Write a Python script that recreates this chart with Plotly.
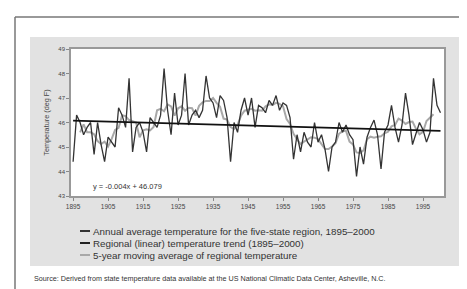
import plotly.graph_objects as go

years = list(range(1895, 2001))
annual_temp = [
    44.4, 46.3, 46.0, 45.5, 45.8, 46.0, 44.7, 46.0, 45.1, 44.4,
    45.4, 45.2, 45.0, 46.6, 46.3, 45.8, 47.8, 44.8, 45.8, 46.0,
    45.6, 44.8, 46.2, 46.0, 45.8, 46.3, 48.2, 46.5, 45.5, 47.2,
    45.9, 46.3, 48.0, 45.9, 46.3, 46.5, 46.2, 46.5, 47.9, 47.0,
    46.8, 46.2, 47.1, 46.9, 46.2, 44.4, 46.0, 45.6, 46.5, 47.0,
    46.3, 47.0, 45.8, 46.7, 46.6, 46.4, 46.9, 46.7, 47.1, 46.5,
    46.8, 46.7, 46.2, 44.5, 45.5, 44.8, 45.6, 45.2, 45.0, 46.0,
    45.2, 45.5, 44.9, 44.0, 45.0, 45.2, 46.0, 45.6, 45.9, 45.5,
    45.3, 43.8, 45.0, 44.3, 45.4, 45.8, 46.1, 45.5, 44.1, 45.6,
    45.9, 46.7, 45.8, 45.2, 45.9, 47.2, 46.3, 45.1, 45.6, 46.0,
    45.7, 45.2, 45.6, 47.8, 46.7, 46.4,
]
ma_years = list(range(1897, 1999))
moving_avg = [
    45.60, 45.92, 45.60, 45.60, 45.52, 45.24, 45.12, 45.22, 45.02, 45.32,
    45.70, 45.78, 46.30, 46.26, 46.10, 46.04, 46.00, 45.40, 45.68, 45.72,
    45.68, 45.82, 46.50, 46.56, 46.46, 46.74, 46.66, 46.28, 46.58, 46.66,
    46.48, 46.60, 46.58, 46.28, 46.68, 46.82, 46.88, 46.88, 47.00, 46.80,
    46.64, 46.16, 46.12, 45.82, 45.74, 45.90, 46.28, 46.48, 46.52, 46.56,
    46.48, 46.50, 46.48, 46.66, 46.74, 46.72, 46.80, 46.76, 46.66, 46.14,
    45.94, 45.54, 45.32, 45.12, 45.22, 45.32, 45.40, 45.38, 45.32, 45.12,
    44.92, 44.92, 45.02, 45.16, 45.54, 45.64, 45.66, 45.22, 45.10, 44.78,
    44.76, 44.86, 45.32, 45.42, 45.38, 45.42, 45.44, 45.56, 45.62, 45.84,
    45.90, 46.16, 46.08, 45.94, 46.02, 46.04, 45.74, 45.52, 45.62, 46.06,
    46.20, 46.34,
]
trend_years = [1895, 2000]
trend_vals = [46.079, 45.659]

x_ticks = list(range(1895, 2000, 10))
y_ticks = [43, 44, 45, 46, 47, 48, 49]

legend_labels = [
    "Annual average temperature for the five-state region, 1895\u20132000",
    "Regional (linear) temperature trend (1895\u20132000)",
    "5-year moving average of regional temperature",
]
legend_colors = ["#333333", "#222222", "#a8a8a8"]

FONT = "Liberation Sans, Arial, sans-serif"
L, R, T, B = 63, 31, 41, 101
W, H = 467, 289
pw, ph = W - L - R, H - T - B

def px(x):
    return (x - L) / pw

def py(y):
    return (H - B - y) / ph

fig = go.Figure()
fig.add_trace(go.Scatter(x=ma_years, y=moving_avg, mode="lines",
                         line=dict(color="#a8a8a8", width=2), showlegend=False))
fig.add_trace(go.Scatter(x=years, y=annual_temp, mode="lines",
                         line=dict(color="#333333", width=1.3), showlegend=False))
fig.add_trace(go.Scatter(x=trend_years, y=trend_vals, mode="lines",
                         line=dict(color="#111111", width=1.8), showlegend=False))

shapes = [
    dict(type="line", xref="paper", yref="paper", x0=px(7), x1=px(470), y0=py(9), y1=py(9),
         line=dict(color="#777777", width=1.5), layer="below"),
    dict(type="line", xref="paper", yref="paper", x0=px(7), x1=px(7), y0=py(9), y1=py(292),
         line=dict(color="#777777", width=1.5), layer="below"),
    dict(type="rect", xref="paper", yref="paper", x0=px(22), x1=px(452), y0=py(258), y1=py(29),
         fillcolor="#e2e2e2", line=dict(width=0), layer="below"),
    dict(type="rect", xref="paper", yref="paper", x0=0, x1=1, y0=0, y1=1,
         fillcolor="white", line=dict(width=0), layer="below"),
]
annotations = []
rows_y = [223, 235, 247]
for lab, col, ry in zip(legend_labels, legend_colors, rows_y):
    shapes.append(dict(type="line", xref="paper", yref="paper", x0=px(72), x1=px(82),
                       y0=py(ry), y1=py(ry), line=dict(color=col, width=2)))
    annotations.append(dict(xref="paper", yref="paper", x=px(83), y=py(ry), text=lab,
                            showarrow=False, xanchor="left", yanchor="middle",
                            font=dict(family=FONT, size=9.8, color="#333333")))

annotations.append(dict(xref="paper", yref="paper", x=px(83), y=py(178),
                        text="y = -0.004x + 46.079", showarrow=False,
                        xanchor="left", yanchor="middle",
                        font=dict(family=FONT, size=7.5, color="#333333")))
annotations.append(dict(xref="paper", yref="paper", x=px(24), y=py(270),
                        text="Source: Derived from state temperature data available at the US National Climatic Data Center, Asheville, N.C.",
                        showarrow=False, xanchor="left", yanchor="middle",
                        font=dict(family=FONT, size=7.2, color="#333333")))

fig.update_layout(
    width=W, height=H,
    margin=dict(l=L, r=R, t=T, b=B),
    paper_bgcolor="white",
    plot_bgcolor="white",
    showlegend=False,
    shapes=shapes,
    annotations=annotations,
    xaxis=dict(range=[1894.4, 2001.0], tickvals=x_ticks, ticks="outside", ticklen=3,
               tickcolor="#888888", showgrid=False, zeroline=False,
               showline=True, linecolor="#999999", linewidth=1.5, mirror=True,
               tickfont=dict(family=FONT, size=6.5, color="#444444")),
    yaxis=dict(range=[43, 49], tickvals=y_ticks, ticks="outside", ticklen=3,
               tickcolor="#888888", showgrid=False, zeroline=False,
               showline=True, linecolor="#999999", linewidth=1.5, mirror=True,
               tickfont=dict(family=FONT, size=6, color="#444444"),
               title=dict(text="Temperature (deg F)", standoff=8,
                          font=dict(family=FONT, size=7.3, color="#444444"))),
)

fig.write_html("out.html")
